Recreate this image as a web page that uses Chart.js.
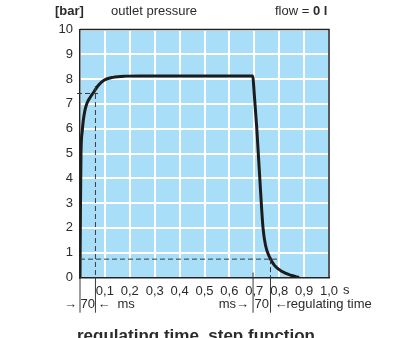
<!DOCTYPE html>
<html lang="en">
<head>
  <meta charset="UTF-8">
  <title>outlet pressure - regulating time, step function</title>
  <script src="https://cdn.jsdelivr.net/npm/chart.js"></script>
  <style>
    body {
      margin: 0;
      background: #fff;
    }
    canvas {
      display: block;
    }
  </style>
</head>
<body>

  <canvas id="stepChart" width="393" height="338"></canvas>

  <script>
    // time in s, pressure in bar
    const timeS = [0, 0.002, 0.004, 0.009, 0.0133, 0.02, 0.028, 0.04, 0.052, 0.074, 0.096, 0.132, 0.18, 0.24,
                   0.45, 0.694, 0.697, 0.71, 0.725, 0.735, 0.745, 0.76, 0.78, 0.81, 0.85, 0.88];
    const pressureBar = [0, 3, 5, 5.9, 6.34, 6.75, 7.03, 7.25, 7.43, 7.75, 7.95, 8.07, 8.12, 8.13,
                         8.13, 8.12, 7.8, 6, 3.5, 2, 1.3, 0.85, 0.5, 0.25, 0.08, 0];

    const yTickLabels = ['0', '1', '2', '3', '4', '5', '6', '7', '8', '9', '10'];
    const xTickLabels = ['', '0,1', '0,2', '0,3', '0,4', '0,5', '0,6', '0,7', '0,8', '0,9', '1,0'];

    // dashed markers: [time, pressure]
    const riseMark = [0.062, 7.42];
    const fallMark = [0.765, 0.74];
    // regulating time brackets (start, end) in s
    const riseSpan = [0, 0.062];
    const fallSpan = [0.695, 0.765];

    const FONT = 'Liberation Sans, Arial, sans-serif';
    const INK = '#2b2b2b';

    const chartBackground = {
      id: 'chartBackground',
      beforeDraw(chart) {
        const { ctx, chartArea: a } = chart;
        ctx.save();
        ctx.fillStyle = '#a8def8';
        ctx.fillRect(a.left, a.top, a.right - a.left, a.bottom - a.top);
        ctx.restore();
      },
      afterDraw(chart) {
        const { ctx, chartArea: a } = chart;
        const x = chart.scales.x, y = chart.scales.y;
        ctx.save();

        // frame top + right
        ctx.strokeStyle = '#222';
        ctx.lineWidth = 1.5;
        ctx.beginPath();
        ctx.moveTo(a.left, a.top);
        ctx.lineTo(a.right, a.top);
        ctx.lineTo(a.right, a.bottom);
        ctx.stroke();

        // dashed marker lines
        ctx.strokeStyle = '#3a3a3a';
        ctx.lineWidth = 1;
        ctx.setLineDash([5, 3]);
        ctx.beginPath();
        ctx.moveTo(x.getPixelForValue(-0.012), y.getPixelForValue(riseMark[1]));
        ctx.lineTo(x.getPixelForValue(riseMark[0] + 0.02), y.getPixelForValue(riseMark[1]));
        ctx.moveTo(x.getPixelForValue(riseMark[0]), y.getPixelForValue(riseMark[1] + 0.3));
        ctx.lineTo(x.getPixelForValue(riseMark[0]), a.bottom);
        ctx.moveTo(x.getPixelForValue(0), y.getPixelForValue(fallMark[1]));
        ctx.lineTo(x.getPixelForValue(fallMark[0] + 0.03), y.getPixelForValue(fallMark[1]));
        ctx.moveTo(x.getPixelForValue(fallMark[0]), y.getPixelForValue(fallMark[1]));
        ctx.lineTo(x.getPixelForValue(fallMark[0]), a.bottom);
        ctx.stroke();
        ctx.setLineDash([]);

        // bracket lines below the axis
        const yLow = y.getPixelForValue(-1.42);
        ctx.beginPath();
        [riseSpan[0], riseSpan[1], fallSpan[0], fallSpan[1]].forEach(function (t) {
          ctx.moveTo(x.getPixelForValue(t), a.bottom);
          ctx.lineTo(x.getPixelForValue(t), yLow);
        });
        ctx.moveTo(x.getPixelForValue(fallSpan[0]), y.getPixelForValue(0.2));
        ctx.lineTo(x.getPixelForValue(fallSpan[0]), a.bottom);
        ctx.stroke();

        // texts
        ctx.fillStyle = INK;
        ctx.textBaseline = 'middle';
        ctx.font = 'bold 13px ' + FONT;
        ctx.textAlign = 'left';
        ctx.fillText('[bar]', 55, 11);
        ctx.font = '13px ' + FONT;
        ctx.fillText('outlet pressure', 111, 11);
        ctx.fillText('flow = ', 275, 11);
        const w = ctx.measureText('flow = ').width;
        ctx.font = 'bold 13px ' + FONT;
        ctx.fillText('0 l', 275 + w, 11);

        ctx.font = '13px ' + FONT;
        ctx.fillText('s', x.getPixelForValue(1) + 14, 290);

        const ty = 304;
        const r0 = x.getPixelForValue(riseSpan[0]), r1 = x.getPixelForValue(riseSpan[1]);
        const f0 = x.getPixelForValue(fallSpan[0]), f1 = x.getPixelForValue(fallSpan[1]);
        ctx.textAlign = 'center';
        ctx.fillText('70', (r0 + r1) / 2, ty);
        ctx.fillText('70', (f0 + f1) / 2, ty);
        ctx.textAlign = 'right';
        ctx.fillText('\u2192', r0 - 3, ty);
        ctx.fillText('\u2192', f0 - 4, ty);
        ctx.textAlign = 'left';
        ctx.fillText('\u2190', r1 + 2, ty);
        ctx.fillText('\u2190', f1 + 4, ty);
        ctx.fillText('ms', r1 + 22, ty);
        ctx.fillText('regulating time', f1 + 16, ty);
        ctx.textAlign = 'right';
        ctx.fillText('ms', f0 - 17, ty);

        ctx.font = 'bold 17px ' + FONT;
        ctx.textAlign = 'center';
        ctx.textBaseline = 'alphabetic';
        ctx.fillText('regulating time, step function', 196, 341);

        ctx.restore();
      }
    };

    const ctx = document.getElementById('stepChart').getContext('2d');

    new Chart(ctx, {
      type: 'line',
      data: {
        datasets: [{
          data: timeS.map(function (t, i) { return { x: t, y: pressureBar[i] }; }),
          borderColor: '#1c1c1c',
          borderWidth: 3,
          pointRadius: 0,
          cubicInterpolationMode: 'monotone',
          fill: false
        }]
      },
      options: {
        responsive: false,
        animation: false,
        layout: {
          padding: { top: 29.5, right: 64, left: 0, bottom: 0 }
        },
        plugins: {
          legend: { display: false },
          tooltip: { enabled: false }
        },
        scales: {
          x: {
            type: 'linear',
            min: 0,
            max: 1,
            afterFit(scale) { scale.height = 60.5; },
            grid: { color: '#ffffff', lineWidth: 2, drawTicks: false },
            border: { display: true, color: '#222', width: 1.5 },
            ticks: {
              stepSize: 0.1,
              autoSkip: false,
              maxRotation: 0,
              padding: 6,
              color: INK,
              font: { family: FONT, size: 13 },
              callback: function (v, i) { return xTickLabels[i]; }
            }
          },
          y: {
            min: 0,
            max: 10,
            afterFit(scale) { scale.width = 80; },
            grid: { color: '#ffffff', lineWidth: 2, drawTicks: false },
            border: { display: true, color: '#222', width: 1.5 },
            ticks: {
              stepSize: 1,
              padding: 7,
              color: INK,
              font: { family: FONT, size: 13 },
              callback: function (v, i) { return yTickLabels[i]; }
            }
          }
        }
      },
      plugins: [chartBackground]
    });
  </script>

</body>
</html>
